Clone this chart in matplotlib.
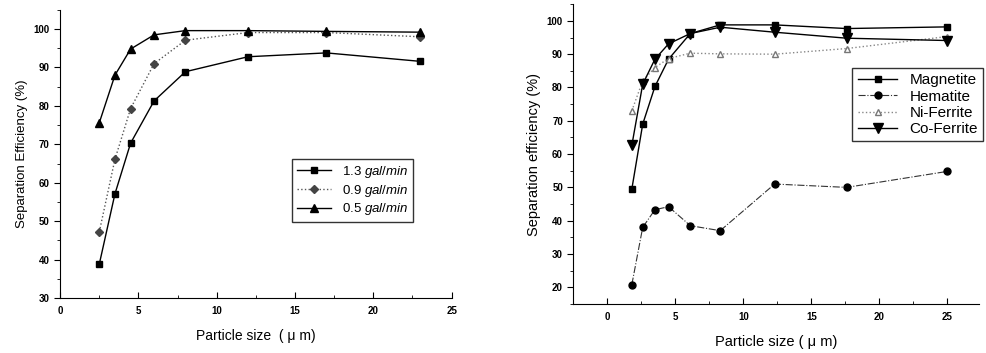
import matplotlib.pyplot as plt
from matplotlib.ticker import MultipleLocator

plt.rcParams['font.family'] = ['Liberation Sans', 'DejaVu Sans']
plt.rcParams['mathtext.fontset'] = 'custom'
plt.rcParams['mathtext.it'] = 'Liberation Sans:italic'
plt.rcParams['mathtext.rm'] = 'Liberation Sans'

# left panel: flow rates
size_a = [2.5, 3.5, 4.5, 6, 8, 12, 17, 23]
eff_13 = [38.8, 57.1, 70.3, 81.3, 88.9, 92.8, 93.8, 91.6]
eff_09 = [47.2, 66.1, 79.3, 91.0, 97.1, 99.1, 99.1, 98.0]
eff_05 = [75.6, 88.0, 94.8, 98.5, 99.6, 99.6, 99.4, 99.2]
flow_labels = ['1.3 $\\it{gal/min}$', '0.9 $\\it{gal/min}$', '0.5 $\\it{gal/min}$']

# right panel: materials
size_b = [1.8, 2.6, 3.5, 4.5, 6.1, 8.3, 12.3, 17.6, 25.0]
magnetite = [49.5, 69.0, 80.3, 88.5, 96.2, 98.8, 98.8, 97.7, 98.2]
hematite = [20.8, 38.0, 43.3, 44.2, 38.5, 37.0, 51.0, 50.0, 54.8]
ni_ferrite = [73.0, 82.0, 86.0, 88.7, 90.3, 90.1, 90.0, 91.7, 95.3]
co_ferrite = [62.6, 81.0, 88.5, 93.1, 96.2, 98.1, 96.6, 94.8, 94.1]
mat_labels = ['Magnetite', 'Hematite', 'Ni-Ferrite', 'Co-Ferrite']

fig = plt.figure(figsize=(9.86, 3.53), dpi=100)
ax1 = fig.add_axes([0.061, 0.156, 0.397, 0.816])
ax2 = fig.add_axes([0.5815, 0.139, 0.411, 0.849])

ax1.plot(size_a, eff_13, '-', color='black', marker='s', ms=5, lw=1, label=flow_labels[0])
ax1.plot(size_a, eff_09, ':', color='#555555', marker='D', ms=4, lw=1, mfc='#444444', mec='#444444', label=flow_labels[1])
ax1.plot(size_a, eff_05, '-', color='black', marker='^', ms=6, lw=1, label=flow_labels[2])
ax1.set_xlim(0, 25)
ax1.set_ylim(30, 105)
ax1.set_yticks(range(30, 101, 10))
ax1.set_xlabel('Particle size  ( μ m)', fontsize=10, labelpad=9)
ax1.set_ylabel('Separation Efficiency (%)', fontsize=9.5)
ax1.legend(loc='lower left', bbox_to_anchor=(0.593, 0.264), borderaxespad=0, fontsize=9.5,
           frameon=True, fancybox=False, edgecolor='black', handlelength=2.6,
           borderpad=0.35, labelspacing=0.2)

ax2.plot(size_b, magnetite, '-', color='black', marker='s', ms=5, lw=1, label=mat_labels[0])
ax2.plot(size_b, hematite, '-.', color='#333333', marker='o', ms=5, lw=0.8, mfc='black', mec='black', label=mat_labels[1])
ax2.plot(size_b, ni_ferrite, ':', color='#888888', marker='^', ms=5, lw=1, mfc='white', mec='#777777', label=mat_labels[2])
ax2.plot(size_b, co_ferrite, '-', color='black', marker='v', ms=7, lw=1, label=mat_labels[3])
ax2.set_xlim(-2.5, 27.3)
ax2.set_ylim(15, 105)
ax2.set_yticks(range(20, 101, 10))
ax2.set_xticks(range(0, 26, 5))
ax2.set_xlabel('Particle size ( μ m)', fontsize=10.5, labelpad=9)
ax2.set_ylabel('Separation efficiency (%)', fontsize=10.5)
ax2.legend(loc='upper right', bbox_to_anchor=(1.012, 0.7875), borderaxespad=0, fontsize=11,
           frameon=True, fancybox=False, edgecolor='black', handlelength=2.6,
           borderpad=0.35, labelspacing=0.15)

for ax in (ax1, ax2):
    ax.spines['top'].set_visible(False)
    ax.spines['right'].set_visible(False)
    ax.xaxis.set_minor_locator(MultipleLocator(2.5))
    ax.yaxis.set_minor_locator(MultipleLocator(5))
    ax.tick_params(axis='x', which='both', direction='in', labelsize=7, pad=6)
    ax.tick_params(axis='y', which='both', direction='out', labelsize=7)
    ax.tick_params(which='major', length=4)
    ax.tick_params(which='minor', length=2)
    for lab in ax.get_xticklabels() + ax.get_yticklabels():
        lab.set_fontweight('bold')

fig.savefig('out.png', dpi=100)
